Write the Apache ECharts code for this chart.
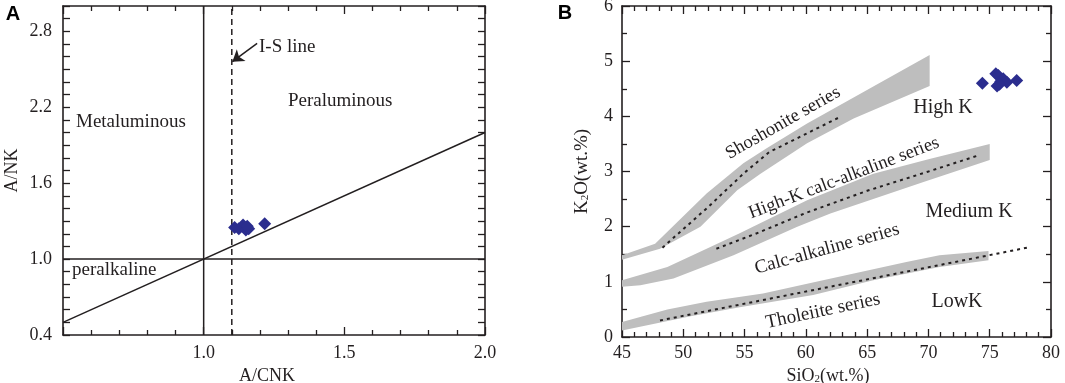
<!DOCTYPE html>
<html><head><meta charset="utf-8">
<script src="https://cdn.jsdelivr.net/npm/echarts@6/dist/echarts.min.js"></script>
<style>html,body{margin:0;padding:0;background:#fff}#c{width:1065px;height:383px}</style>
</head><body><div id="c"></div>
<script>
// ---------- Panel A : A/NK vs A/CNK ----------
const aXTicks = [1.0, 1.5, 2.0];
const aYTicks = [0.4, 1.0, 1.6, 2.2, 2.8];
const acnkPoints = [[1.11,1.25],[1.125,1.24],[1.14,1.27],[1.145,1.25],[1.15,1.23],[1.155,1.26],[1.16,1.24],[1.217,1.28]];
const diagLine = [[0.5,0.5],[2.0,2.0]];
const metaLine = [[1.0,0.4],[1.0,3.0]];
const alkLine = [[0.5,1.0],[2.0,1.0]];
const isLine = [[1.1,0.4],[1.1,3.0]];
const isArrow = [[1.19,2.705],[1.102,2.56]];

// ---------- Panel B : K2O vs SiO2 ----------
const k2oPoints = [[74.4,4.60],[75.5,4.77],[75.7,4.74],[75.6,4.55],[75.9,4.63],[76.1,4.68],[76.4,4.62],[75.8,4.58],[77.2,4.65]];
const shoUpper = [[45,1.48],[47.7,1.69],[51.9,2.60],[54.9,3.15],[56.8,3.42],[60.1,3.87],[65.5,4.54],[70.1,5.11]];
const shoLower = [[70.1,4.55],[63.9,3.96],[60.1,3.51],[56.3,2.96],[54.4,2.66],[51.4,2.0],[48.1,1.60],[45,1.40]];
const hkUpper = [[45,1.03],[48.7,1.27],[51.9,1.60],[54.6,1.88],[60.1,2.48],[65.5,2.96],[70.0,3.22],[75,3.50]];
const hkLower = [[75,3.21],[69.6,2.81],[62,2.24],[59.3,2.0],[54.1,1.48],[49.2,1.06],[46.5,0.94],[45,0.91]];
const thUpper = [[45,0.27],[48.7,0.50],[51.9,0.64],[56.5,0.79],[61.4,1.03],[68.2,1.36],[70.9,1.48],[74.9,1.56]];
const thLower = [[74.9,1.39],[70.9,1.27],[65.5,1.03],[60.6,0.76],[54.6,0.54],[50.6,0.375],[45,0.12]];
const shoDash = [[48.3,1.62],[52,2.35],[55,2.98],[57,3.35],[62.8,3.99]];
const hkDash = [[52.7,1.60],[56,1.88],[60,2.25],[65,2.65],[70,3.0],[74.2,3.30]];
const thDash = [[48.1,0.30],[74.9,1.48],[78.3,1.63]];

const INK = '#231f20';
const SERIF = 'Liberation Serif';
const chart = echarts.init(document.getElementById('c'), null, {renderer:'canvas'});

function axis(o, labelOpt, tickLen, minor, minorLen){
  return Object.assign({
    type:'value', scale:false, splitLine:{show:false},
    axisLine:{show:true, onZero:false, lineStyle:{color:INK, width:1.6}},
    axisTick:{show:true, inside:true, length:tickLen, lineStyle:{color:INK, width:1.3}},
    minorTick:{show: !!minor, splitNumber: minor || 5, length: minorLen || 4, lineStyle:{color:INK, width:1.3}},
    minorSplitLine:{show:false},
    axisLabel: labelOpt ? Object.assign({show:true, color:INK, fontFamily:SERIF, fontSize:18, showMinLabel:true, showMaxLabel:true, hideOverlap:false}, labelOpt) : {show:false}
  }, o);
}
const near = (arr, v) => arr.some(t => Math.abs(t - v) < 1e-6);

const option = {
  animation:false,
  backgroundColor:'#fff',
  grid:[
    {left:63, top:6, width:422, height:329, outerBoundsMode:'none', containLabel:false},
    {left:622, top:6, width:429, height:331, outerBoundsMode:'none', containLabel:false}
  ],
  xAxis:[
    axis({gridIndex:0, position:'bottom', min:0.5, max:2.0, interval:0.5,
      name:'A/CNK', nameLocation:'middle', nameGap:29,
      nameTextStyle:{color:INK, fontFamily:SERIF, fontSize:18, padding:[0,14,0,0]}},
      {margin:9, formatter:v => near(aXTicks, v) ? v.toFixed(1) : ''}, 8, 5, 5),
    axis({gridIndex:0, position:'top', min:0.5, max:2.0, interval:0.5}, null, 8, 5, 5),
    axis({gridIndex:1, position:'bottom', min:45, max:80, interval:5,
      name:'SiO{s|2}(wt.%)', nameLocation:'middle', nameGap:25,
      nameTextStyle:{color:INK, fontFamily:SERIF, fontSize:18, padding:[0,17,0,0],
        rich:{s:{fontFamily:SERIF, fontSize:11, color:INK, padding:[6,0,0,0]}}}},
      {margin:7, formatter:v => String(v)}, 8, 5, 5),
    axis({gridIndex:1, position:'top', min:45, max:80, interval:5}, null, 8, 5, 5)
  ],
  yAxis:[
    axis({gridIndex:0, position:'left', min:0.4, max:3.0, interval:0.1,
      name:'A/NK', nameLocation:'middle', nameGap:42, nameRotate:90,
      nameTextStyle:{color:INK, fontFamily:SERIF, fontSize:18}},
      {margin:11, formatter:v => near(aYTicks, v) ? v.toFixed(1) : ''}, 7, 0),
    axis({gridIndex:0, position:'right', min:0.4, max:3.0, interval:0.1}, null, 7, 0),
    axis({gridIndex:1, position:'left', min:0, max:6, interval:1,
      name:'K{s|2}O(wt.%)', nameLocation:'middle', nameGap:30, nameRotate:90,
      nameTextStyle:{color:INK, fontFamily:SERIF, fontSize:19,
        rich:{s:{fontFamily:SERIF, fontSize:11, color:INK, padding:[6,0,0,0]}}}},
      {margin:9, formatter:v => String(v)}, 8, 2, 5),
    axis({gridIndex:1, position:'right', min:0, max:6, interval:1}, null, 8, 2, 5)
  ],
  series:[]
};

function lineS(data, xi, yi, style, extra){
  return Object.assign({type:'line', xAxisIndex:xi, yAxisIndex:yi, data:data, symbol:'none', silent:true,
    lineStyle:Object.assign({color:INK, width:1.5}, style), z:2, clip:true}, extra||{});
}
function band(upper, lower){
  const poly = upper.concat(lower);
  return {type:'custom', xAxisIndex:2, yAxisIndex:2, data:poly, silent:true, z:1, clip:true,
    renderItem:(params, api) => {
      if (params.dataIndex !== 0) return null;
      return {type:'polygon', shape:{points: poly.map(p => api.coord(p))}, style:{fill:'#bebebe', stroke:null}};
    }};
}

option.series.push(
  lineS(diagLine, 0, 0, {}),
  lineS(metaLine, 0, 0, {}),
  lineS(alkLine, 0, 0, {}),
  lineS(isLine, 0, 0, {type:[6,4]}, {
    markLine:{silent:true, symbol:['none','arrow'], symbolSize:11, animation:false,
      label:{show:false}, lineStyle:{type:'solid', color:INK, width:1.5},
      data:[[{coord:isArrow[0]},{coord:isArrow[1]}]]}
  }),
  {type:'scatter', xAxisIndex:0, yAxisIndex:0, data:acnkPoints, symbol:'diamond', symbolSize:13,
    itemStyle:{color:'#2b2d8e', opacity:1}, z:5, silent:true},
  band(shoUpper, shoLower),
  band(hkUpper, hkLower),
  band(thUpper, thLower),
  lineS(shoDash, 2, 2, {type:[3,4], width:2}),
  lineS(hkDash, 2, 2, {type:[3,4], width:2}),
  lineS(thDash, 2, 2, {type:[3,4], width:2}),
  {type:'scatter', xAxisIndex:2, yAxisIndex:2, data:k2oPoints, symbol:'diamond', symbolSize:13,
    itemStyle:{color:'#2b2d8e', opacity:1}, z:5, silent:true}
);

function t(x, y, text, size, rotDeg, extra){
  return {type:'text', x:x, y:y, rotation:(rotDeg||0)*Math.PI/180, silent:true, z:10,
    style:Object.assign({text:text, fill:INK, font: size+'px "Liberation Serif"', textAlign:'center', textVerticalAlign:'middle'}, extra||{})};
}
option.graphic = [
  t(13, 14, 'A', 20, 0, {font:'bold 20px "Liberation Sans"', fill:'#000'}),
  t(565, 13, 'B', 20, 0, {font:'bold 20px "Liberation Sans"', fill:'#000'}),
  t(76, 122, 'Metaluminous', 19, 0, {textAlign:'left'}),
  t(288, 101, 'Peraluminous', 19, 0, {textAlign:'left'}),
  t(72, 270, 'peralkaline', 19, 0, {textAlign:'left'}),
  t(259, 47, 'I-S line', 19, 0, {textAlign:'left'}),
  t(783, 123, 'Shoshonite series', 18.5, 29.7),
  t(844, 178, 'High-K calc-alkaline series', 18.5, 20.8),
  t(827, 249, 'Calc-alkaline series', 19, 15.5),
  t(823, 311, 'Tholeiite series', 19, 11.9),
  t(943, 108, 'High K', 20),
  t(969, 212, 'Medium K', 20),
  t(957, 302, 'LowK', 20)
];
chart.setOption(option);
</script></body></html>
